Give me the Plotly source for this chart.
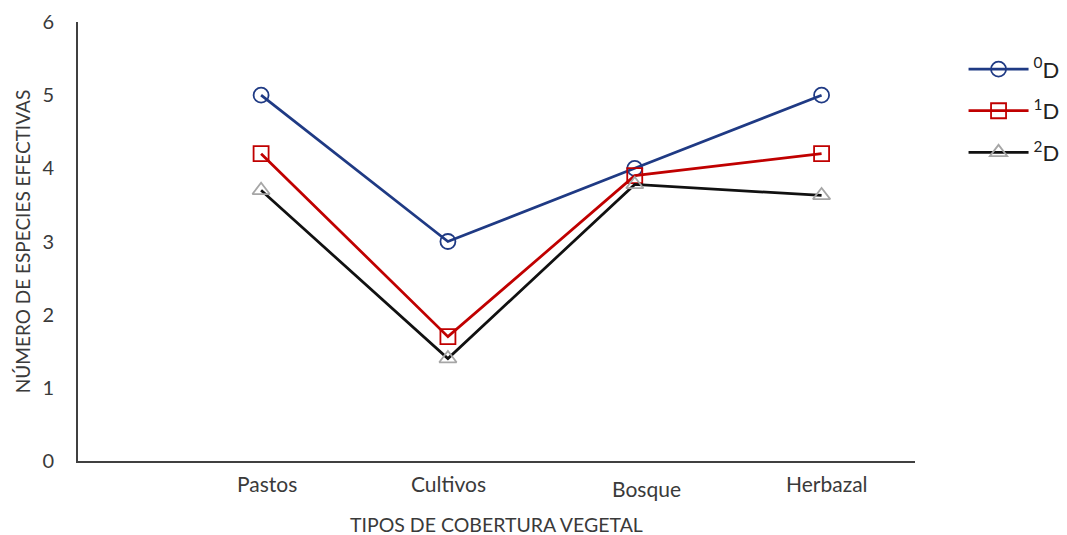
import plotly.graph_objects as go

# Tipos de cobertura vegetal y números de Hill (0D, 1D, 2D)
coberturas = ["Pastos", "Cultivos", "Bosque", "Herbazal"]
posiciones = [1, 2, 3, 4]
d0 = [5.0, 3.0, 4.0, 5.0]
d1 = [4.2, 1.7, 3.9, 4.2]
d2 = [3.7, 1.4, 3.78, 3.63]
y_ticks = [0, 1, 2, 3, 4, 5, 6]

FONT = "Lato, 'Open Sans', sans-serif"
TXT = "#3a3a3a"

series = [
    ("<sup>0</sup>D", d0, "#1f3a84", "circle-open", "#1f3a84"),
    ("<sup>1</sup>D", d1, "#c00000", "square-open", "#c00000"),
    ("<sup>2</sup>D", d2, "#111111", "triangle-up-open", "#a6a6a6"),
]

fig = go.Figure()
for i, (name, vals, lc, sym, mc) in enumerate(series):
    fig.add_trace(go.Scatter(
        x=posiciones, y=vals, name=name, mode="lines+markers",
        legendgroup=f"g{i}",
        line=dict(color=lc, width=2.75),
        marker=dict(symbol=sym, size=15, color=mc, line=dict(width=1.8, color=mc)),
    ))

# Etiquetas de categoría bajo el eje x
label_shift = {"Pastos": (6, 0), "Cultivos": (1, 0), "Bosque": (12, -5), "Herbazal": (5, 0)}
for pos, name in zip(posiciones, coberturas):
    dx, dy = label_shift[name]
    fig.add_annotation(
        x=pos, y=0, xref="x", yref="paper", text=name, showarrow=False,
        yanchor="top", xanchor="center", yshift=-8 + dy, xshift=dx,
        font=dict(family=FONT, size=21, color=TXT),
    )

fig.update_layout(
    width=1067, height=535,
    margin=dict(l=78, r=152, t=22, b=74, autoexpand=False),
    paper_bgcolor="white", plot_bgcolor="white",
    font=dict(family=FONT, color=TXT),
    legend=dict(
        x=1.058, y=0.94, xanchor="left", yanchor="top",
        font=dict(family=FONT, size=22, color="#222222"),
        tracegroupgap=10, itemwidth=60,
    ),
)
fig.update_xaxes(
    range=[0.02, 4.5], showgrid=False, zeroline=False,
    showline=True, linecolor="#404040", linewidth=2,
    showticklabels=False, ticks="",
)
fig.update_yaxes(
    range=[0, 6], tickvals=y_ticks, showgrid=False, zeroline=False,
    showline=True, linecolor="#404040", linewidth=2, ticks="",
    ticklabelstandoff=18,
    tickfont=dict(family=FONT, size=20, color=TXT),
    title=dict(text="NÚMERO DE ESPECIES EFECTIVAS", standoff=7,
               font=dict(family=FONT, size=19, color=TXT)),
)
fig.add_annotation(
    x=0.5, y=0, xref="paper", yref="paper", yanchor="top", yshift=-50,
    text="TIPOS DE COBERTURA VEGETAL", showarrow=False,
    font=dict(family=FONT, size=19.5, color=TXT),
)

fig.write_html("out.html")
